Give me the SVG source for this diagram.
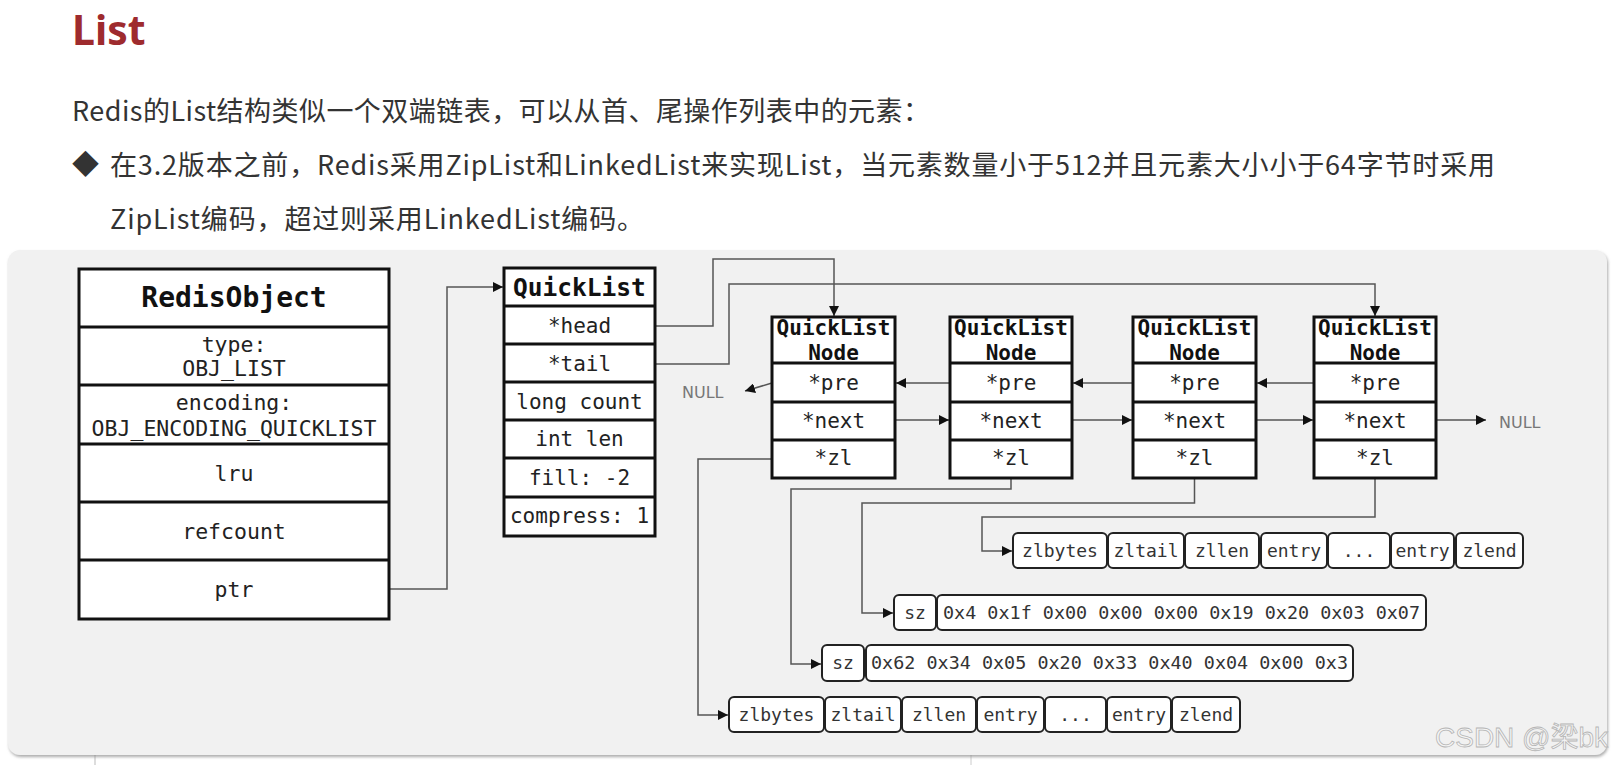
<svg xmlns="http://www.w3.org/2000/svg" width="1620" height="765" viewBox="0 0 1620 765">
<defs>
<style>
.t{font-family:"Noto Sans CJK SC","Noto Sans",sans-serif;fill:#333;font-size:27px}
.m{font-family:"DejaVu Sans Mono","Liberation Mono",monospace;fill:#222;text-anchor:middle}
.b{font-weight:bold;fill:#111}
.box{fill:#fff;stroke:#111;stroke-width:3}
.sep{fill:none;stroke:#111;stroke-width:3}
.cell{fill:#fff;stroke:#222;stroke-width:2}
.c{fill:none;stroke:#555;stroke-width:1.5}
.null{font-family:"DejaVu Sans","Liberation Sans",sans-serif;font-size:16px;fill:#777}
.z{font-size:18px;fill:#333}
.hx{font-family:"DejaVu Sans Mono","Liberation Mono",monospace;font-size:18.4px;fill:#333}
</style>
<marker id="ah" markerUnits="userSpaceOnUse" markerWidth="10" markerHeight="10" refX="10" refY="5" orient="auto"><path d="M0,0 L10,5 L0,10 z" fill="#111"/></marker>
<filter id="sh" x="-2%" y="-3%" width="104%" height="108%"><feDropShadow dx="1" dy="2" stdDeviation="1.5" flood-color="#888" flood-opacity="0.7"/></filter>
</defs>
<rect x="0" y="0" width="1620" height="765" fill="#fff"/>
<g id="heading">
<text x="72" y="45" font-family="'Noto Sans','Noto Sans CJK SC',sans-serif" font-weight="bold" font-size="41" fill="#9e2b2e">List</text>
<text class="t" x="72" y="121" textLength="858">Redis的List结构类似一个双端链表，可以从首、尾操作列表中的元素：</text>
<text class="t" x="72" y="174" font-size="22" fill="#222">◆</text>
<text class="t" x="110" y="175" textLength="1385">在3.2版本之前，Redis采用ZipList和LinkedList来实现List，当元素数量小于512并且元素大小小于64字节时采用</text>
<text class="t" x="110" y="229" textLength="534">ZipList编码，超过则采用LinkedList编码。</text>
</g>
<line x1="95" y1="755" x2="95" y2="765" stroke="#bbb" stroke-width="1"/>
<line x1="971" y1="755" x2="971" y2="765" stroke="#ccc" stroke-width="1"/>
<rect id="panel" x="8" y="250" width="1599" height="505" rx="12" fill="#f1f1f1" filter="url(#sh)"/>
<g id="connectors">
<path class="c" marker-end="url(#ah)" d="M389,589 H447 V287 H503"/>
<path class="c" marker-end="url(#ah)" d="M655,326 H713 V259 H834 V316"/>
<path class="c" marker-end="url(#ah)" d="M655,364 H729 V284 H1375 V316"/>
<path class="c" marker-end="url(#ah)" d="M772,383 L745,391"/>
<path class="c" marker-end="url(#ah)" d="M950,383 H896"/>
<path class="c" marker-end="url(#ah)" d="M1133,383 H1073"/>
<path class="c" marker-end="url(#ah)" d="M1314,383 H1257"/>
<path class="c" marker-end="url(#ah)" d="M895,420 H949"/>
<path class="c" marker-end="url(#ah)" d="M1072,420 H1132"/>
<path class="c" marker-end="url(#ah)" d="M1256,420 H1313"/>
<path class="c" marker-end="url(#ah)" d="M1436,420 H1486"/>
<path class="c" marker-end="url(#ah)" d="M772,459 H698 V715 H728"/>
<path class="c" marker-end="url(#ah)" d="M1011,478 V489 H791 V664 H821"/>
<path class="c" marker-end="url(#ah)" d="M1194.5,478 V503 H862 V613 H893"/>
<path class="c" marker-end="url(#ah)" d="M1375,478 V517 H982 V551 H1012"/>
<text class="null" x="682" y="398">NULL</text>
<text class="null" x="1499" y="428">NULL</text>
</g>
<g id="redisobject">
<rect class="box" x="79" y="269" width="310" height="350"/>
<path class="sep" d="M79,327H389M79,385H389M79,444H389M79,502H389M79,560H389"/>
<text class="m b" x="234" y="307" font-size="28">RedisObject</text>
<text class="m" x="234" y="352" font-size="21.5">type:</text>
<text class="m" x="234" y="376" font-size="21.5">OBJ_LIST</text>
<text class="m" x="234" y="410" font-size="21.5">encoding:</text>
<text class="m" x="234" y="436" font-size="21.5">OBJ_ENCODING_QUICKLIST</text>
<text class="m" x="234" y="481" font-size="21.5">lru</text>
<text class="m" x="234" y="539" font-size="21.5">refcount</text>
<text class="m" x="234" y="597" font-size="21.5">ptr</text>
</g>
<g id="quicklist">
<rect class="box" x="504" y="268" width="151" height="268"/>
<path class="sep" d="M504,306H655M504,344H655M504,382H655M504,420H655M504,458H655M504,497H655"/>
<text class="m b" x="579.5" y="296" font-size="24.5">QuickList</text>
<text class="m" x="579.5" y="333" font-size="21">*head</text>
<text class="m" x="579.5" y="371" font-size="21">*tail</text>
<text class="m" x="579.5" y="409" font-size="21">long count</text>
<text class="m" x="579.5" y="446" font-size="21">int len</text>
<text class="m" x="579.5" y="485" font-size="21">fill: -2</text>
<text class="m" x="579.5" y="523" font-size="21">compress: 1</text>
</g>
<g id="qln1">
<rect class="box" x="772" y="317" width="123" height="161"/>
<path class="sep" d="M772,363H895M772,402H895M772,440H895"/>
<text class="m b" x="833.5" y="335" font-size="21">QuickList</text>
<text class="m b" x="833.5" y="360" font-size="21">Node</text>
<text class="m" x="833.5" y="390" font-size="21">*pre</text>
<text class="m" x="833.5" y="428" font-size="21">*next</text>
<text class="m" x="833.5" y="465" font-size="21">*zl</text>
</g>
<g id="qln2">
<rect class="box" x="950" y="317" width="122" height="161"/>
<path class="sep" d="M950,363H1072M950,402H1072M950,440H1072"/>
<text class="m b" x="1011" y="335" font-size="21">QuickList</text>
<text class="m b" x="1011" y="360" font-size="21">Node</text>
<text class="m" x="1011" y="390" font-size="21">*pre</text>
<text class="m" x="1011" y="428" font-size="21">*next</text>
<text class="m" x="1011" y="465" font-size="21">*zl</text>
</g>
<g id="qln3">
<rect class="box" x="1133" y="317" width="123" height="161"/>
<path class="sep" d="M1133,363H1256M1133,402H1256M1133,440H1256"/>
<text class="m b" x="1194.5" y="335" font-size="21">QuickList</text>
<text class="m b" x="1194.5" y="360" font-size="21">Node</text>
<text class="m" x="1194.5" y="390" font-size="21">*pre</text>
<text class="m" x="1194.5" y="428" font-size="21">*next</text>
<text class="m" x="1194.5" y="465" font-size="21">*zl</text>
</g>
<g id="qln4">
<rect class="box" x="1314" y="317" width="122" height="161"/>
<path class="sep" d="M1314,363H1436M1314,402H1436M1314,440H1436"/>
<text class="m b" x="1375" y="335" font-size="21">QuickList</text>
<text class="m b" x="1375" y="360" font-size="21">Node</text>
<text class="m" x="1375" y="390" font-size="21">*pre</text>
<text class="m" x="1375" y="428" font-size="21">*next</text>
<text class="m" x="1375" y="465" font-size="21">*zl</text>
</g>
<g id="ziplist4">
<rect class="cell" x="1013" y="533" width="94" height="35" rx="5"/>
<rect class="cell" x="1108" y="533" width="76" height="35" rx="5"/>
<rect class="cell" x="1185" y="533" width="74" height="35" rx="5"/>
<rect class="cell" x="1261" y="533" width="66" height="35" rx="5"/>
<rect class="cell" x="1328" y="533" width="62" height="35" rx="5"/>
<rect class="cell" x="1391" y="533" width="63" height="35" rx="5"/>
<rect class="cell" x="1456" y="533" width="67" height="35" rx="5"/>
<text class="m z" x="1060" y="557">zlbytes</text>
<text class="m z" x="1146" y="557">zltail</text>
<text class="m z" x="1222" y="557">zllen</text>
<text class="m z" x="1294" y="557">entry</text>
<text class="m z" x="1359" y="557">...</text>
<text class="m z" x="1422.5" y="557">entry</text>
<text class="m z" x="1489.5" y="557">zlend</text>
</g>
<g id="compressed3">
<rect class="cell" x="894" y="595" width="42" height="35" rx="5"/>
<rect class="cell" x="937" y="595" width="489" height="35" rx="5"/>
<text class="m z" x="915" y="619">sz</text>
<text class="hx" x="943" y="619" textLength="477">0x4 0x1f 0x00 0x00 0x00 0x19 0x20 0x03 0x07</text>
</g>
<g id="compressed2">
<rect class="cell" x="822" y="645" width="42" height="36" rx="5"/>
<rect class="cell" x="866" y="645" width="487" height="36" rx="5"/>
<text class="m z" x="843" y="669">sz</text>
<text class="hx" x="871" y="669" textLength="477">0x62 0x34 0x05 0x20 0x33 0x40 0x04 0x00 0x3</text>
</g>
<g id="ziplist1">
<rect class="cell" x="729" y="697" width="95" height="35" rx="5"/>
<rect class="cell" x="825" y="697" width="76" height="35" rx="5"/>
<rect class="cell" x="902" y="697" width="74" height="35" rx="5"/>
<rect class="cell" x="977" y="697" width="67" height="35" rx="5"/>
<rect class="cell" x="1045" y="697" width="61" height="35" rx="5"/>
<rect class="cell" x="1107" y="697" width="64" height="35" rx="5"/>
<rect class="cell" x="1172" y="697" width="68" height="35" rx="5"/>
<text class="m z" x="776.5" y="721">zlbytes</text>
<text class="m z" x="863" y="721">zltail</text>
<text class="m z" x="939" y="721">zllen</text>
<text class="m z" x="1010.5" y="721">entry</text>
<text class="m z" x="1075.5" y="721">...</text>
<text class="m z" x="1139" y="721">entry</text>
<text class="m z" x="1206" y="721">zlend</text>
</g>
<text x="1435" y="747" font-family="'Liberation Sans','Noto Sans CJK SC',sans-serif" font-size="28" fill="#f4f4f4" stroke="#b5b5b5" stroke-width="0.8">CSDN @梁bk</text>
</svg>
